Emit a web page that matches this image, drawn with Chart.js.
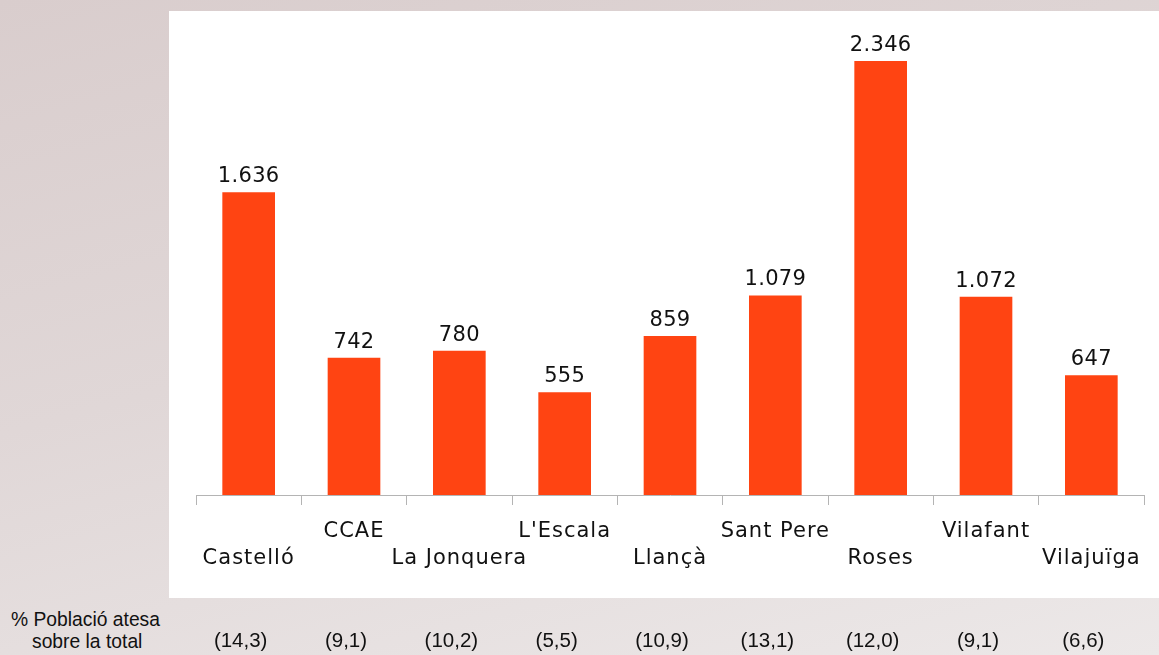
<!DOCTYPE html>
<html>
<head>
<meta charset="utf-8">
<script src="https://cdn.jsdelivr.net/npm/chart.js@4"></script>
<style>
  html, body { margin: 0; padding: 0; }
  body {
    width: 1159px; height: 655px; overflow: hidden; position: relative;
    background: linear-gradient(165deg, #d9cdcd 0%, #e0d7d7 45%, #ece8e8 100%);
    font-family: "Liberation Sans", Arial, sans-serif;
  }
  #caixa { position: absolute; left: 169px; top: 11px; width: 990px; height: 587px; background: #fff; }
  #grafic { position: absolute; left: 0; top: 0; }
  .nota { position: absolute; font-size: 19.3px; color: #111; line-height: 22px; white-space: nowrap; }
</style>
</head>
<body>
<div id="caixa"></div>
<div class="nota" style="left:11px; top:609px;">% Població atesa</div>
<div class="nota" style="left:32px; top:631px;">sobre la total</div>
<canvas id="grafic" width="1159" height="655"></canvas>
<script>
// Persones ateses per municipi, i % sobre la població total
var municipis = ['Castelló', 'CCAE', 'La Jonquera', "L'Escala", 'Llançà', 'Sant Pere', 'Roses', 'Vilafant', 'Vilajuïga'];
var ateses = [1636, 742, 780, 555, 859, 1079, 2346, 1072, 647];
var percentatge = ['(14,3)', '(9,1)', '(10,2)', '(5,5)', '(10,9)', '(13,1)', '(12,0)', '(9,1)', '(6,6)'];

var taronja = '#ff4412';
var gris = '#b4b4b4';

function fmtMiles(n) {
  return n.toLocaleString('de-DE');
}

// etiquetes de valor damunt de cada barra i fila de percentatges a sota
var etiquetes = {
  id: 'etiquetes',
  beforeDraw: function (chart) {
    chart.ctx.letterSpacing = '1px';
  },
  afterDatasetsDraw: function (chart) {
    var ctx = chart.ctx;
    var meta = chart.getDatasetMeta(0);
    ctx.save();
    ctx.letterSpacing = '0.3px';
    ctx.font = '21px "DejaVu Sans"';
    ctx.fillStyle = '#111';
    ctx.textAlign = 'center';
    ctx.textBaseline = 'alphabetic';
    meta.data.forEach(function (bar, i) {
      ctx.fillText(fmtMiles(ateses[i]), bar.x, bar.y - 10);
    });
    ctx.letterSpacing = '0px';
    ctx.font = '20.5px "Liberation Sans"';
    ctx.textBaseline = 'middle';
    var x = chart.scales.x;
    percentatge.forEach(function (t, i) {
      ctx.fillText(t, x.getPixelForValue(i) - 8, chart.chartArea.bottom + 146);
    });
    ctx.restore();
  },
};

new Chart(document.getElementById('grafic').getContext('2d'), {
  type: 'bar',
  data: {
    labels: municipis,
    datasets: [{
      data: ateses,
      backgroundColor: taronja,
      barPercentage: 0.5,
      categoryPercentage: 1,
    }],
  },
  options: {
    responsive: false,
    animation: false,
    layout: { padding: { left: 196, right: 15, top: 14, bottom: 70 } },
    plugins: { legend: { display: false }, tooltip: { enabled: false } },
    scales: {
      x: {
        grid: { drawOnChartArea: false, drawTicks: true, tickLength: 10, color: gris },
        border: { display: true, color: gris },
        ticks: {
          color: '#111',
          padding: 13,
          maxRotation: 0,
          autoSkip: false,
          font: { family: 'DejaVu Sans', size: 21, lineHeight: 27 / 21 },
          callback: function (v, i) {
            return i % 2 === 0 ? ['', municipis[i]] : [municipis[i], ''];
          },
        },
      },
      y: { display: false, min: 0, max: 2600 },
    },
  },
  plugins: [etiquetes],
});
</script>
</body>
</html>
